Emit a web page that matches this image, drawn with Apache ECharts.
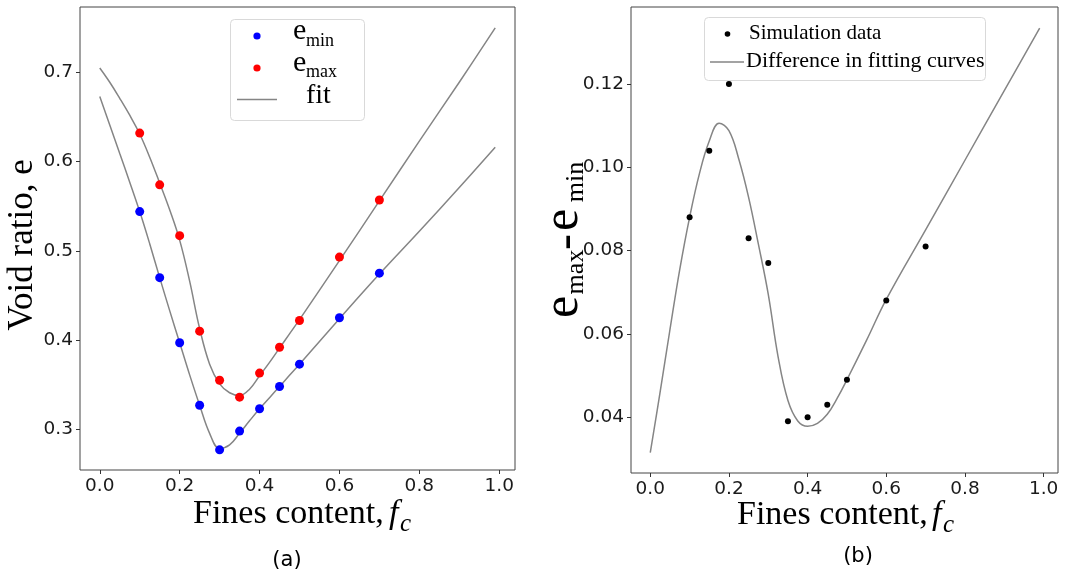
<!DOCTYPE html>
<html>
<head>
<meta charset="utf-8">
<script src="https://cdn.jsdelivr.net/npm/echarts@6/dist/echarts.min.js"></script>
<style>
  html, body { margin: 0; padding: 0; background: #fff; }
  #chart { width: 1078px; height: 579px; }
</style>
</head>
<body>
<div id="chart"></div>
<script>
// Fines content of the simulated samples
const fcData = [0.1, 0.15, 0.2, 0.25, 0.3, 0.35, 0.4, 0.45, 0.5, 0.6, 0.7];
// Minimum / maximum void ratio from the simulations
const eMin = [0.544, 0.470, 0.397, 0.327, 0.277, 0.298, 0.323, 0.348, 0.373, 0.425, 0.475];
const eMax = [0.632, 0.574, 0.517, 0.410, 0.355, 0.336, 0.363, 0.392, 0.422, 0.493, 0.557];
// e_max - e_min from the simulations
const eDiff = [0.088, 0.104, 0.120, 0.083, 0.077, 0.039, 0.040, 0.043, 0.049, 0.068, 0.081];

// Fitted curves for e_min and e_max
const fitX = [0, 0.025, 0.05, 0.075, 0.1, 0.125, 0.15, 0.175, 0.2, 0.225, 0.25, 0.275, 0.3, 0.325, 0.35, 0.375, 0.4, 0.425, 0.45, 0.475, 0.5, 0.6, 0.7, 0.8, 0.9, 0.99];
const fitMax = [0.705, 0.689, 0.671, 0.652, 0.631, 0.605, 0.576, 0.546, 0.512, 0.466, 0.413, 0.373, 0.351, 0.341, 0.338, 0.345, 0.360, 0.375, 0.391, 0.407, 0.423, 0.489, 0.556, 0.623, 0.689, 0.750];
const fitMin = [0.673, 0.641, 0.609, 0.577, 0.544, 0.508, 0.470, 0.433, 0.397, 0.361, 0.327, 0.2955, 0.2785, 0.2825, 0.2955, 0.3095, 0.323, 0.3355, 0.348, 0.3605, 0.373, 0.424, 0.474, 0.522, 0.571, 0.616];

// Difference between the two fitted curves
const diffX = [0, 0.025, 0.05, 0.075, 0.1, 0.125, 0.15, 0.175, 0.2, 0.225, 0.25, 0.275, 0.3, 0.325, 0.35, 0.375, 0.4, 0.425, 0.45, 0.475, 0.5, 0.55, 0.6, 0.7, 0.8, 0.9, 0.99];
const diffFit = [0.0315, 0.046, 0.061, 0.0755, 0.088, 0.0985, 0.1063, 0.1106, 0.1088, 0.102, 0.0928, 0.0815, 0.0695, 0.0545, 0.0440, 0.0391, 0.0378, 0.0385, 0.0407, 0.0445, 0.049, 0.0585, 0.0683, 0.085, 0.1017, 0.1184, 0.1334];

// Tick labels
const xTicks = [0, 0.2, 0.4, 0.6, 0.8, 1.0];
const yTicksA = [0.3, 0.4, 0.5, 0.6, 0.7];
const yTicksB = [0.04, 0.06, 0.08, 0.10, 0.12];

const pairs = (xs, ys) => xs.map((x, i) => [x, ys[i]]);

const TICK_FONT = 'DejaVu Sans';
const SERIF = '"Liberation Serif", "Times New Roman", serif';
const FIT_GREY = '#858585';
const SMOOTH = 0.4;

function valueAxis(gridIndex, min, max, ticks, digits) {
  return {
    type: 'value', gridIndex, min, max,
    axisLine: { show: false, onZero: false },
    splitLine: { show: false },
    axisTick: { show: true, length: 4, customValues: ticks, lineStyle: { color: '#333', width: 1 } },
    axisLabel: {
      customValues: ticks, margin: 7, color: '#1a1a1a',
      fontFamily: TICK_FONT, fontSize: 18.5,
      formatter: v => v.toFixed(digits)
    }
  };
}

function text(x, y, s, font, align, rot) {
  return {
    type: 'text', x, y, rotation: rot || 0, silent: true,
    style: {
      text: s, font, fill: '#000',
      textAlign: align || 'left', textVerticalAlign: 'middle',
      align: align || 'left', verticalAlign: 'middle'
    }
  };
}

const R90 = Math.PI / 2;

const graphics = [
  // axis titles, panel (a)
  text(23, 245, 'Void ratio, e', '35px ' + SERIF, 'center', R90),
  text(193, 514, 'Fines content,', '34px ' + SERIF, 'left'),
  text(389, 514, 'f', 'italic 34px ' + SERIF, 'left'),
  text(400, 524, 'c', 'italic 25px ' + SERIF, 'left'),
  text(287, 561, '(a)', '21px "DejaVu Sans"', 'center'),

  // axis titles, panel (b)
  text(564, 307, 'e', '50px ' + SERIF, 'center', R90),
  text(576, 272, 'max', '26px ' + SERIF, 'center', R90),
  text(567, 242, '-', '48px ' + SERIF, 'center', R90),
  text(564, 220, 'e', '50px ' + SERIF, 'center', R90),
  text(576, 182, 'min', '26px ' + SERIF, 'center', R90),
  text(737, 515, 'Fines content,', '34px ' + SERIF, 'left'),
  text(932, 515, 'f', 'italic 34px ' + SERIF, 'left'),
  text(943, 525, 'c', 'italic 25px ' + SERIF, 'left'),
  text(858, 557, '(b)', '21px "DejaVu Sans"', 'center'),

  // legend, panel (a)
  { type: 'rect', shape: { x: 230.5, y: 19.5, width: 134, height: 101, r: 4 },
    style: { fill: 'rgba(255,255,255,0.85)', stroke: '#d9d9d9', lineWidth: 1 }, z: 10, silent: true },
  { type: 'circle', shape: { cx: 257, cy: 36, r: 3.6 }, style: { fill: '#0000ff' }, z: 11, silent: true },
  { type: 'circle', shape: { cx: 257, cy: 68, r: 3.6 }, style: { fill: '#ff0000' }, z: 11, silent: true },
  { type: 'line', shape: { x1: 237, y1: 99.5, x2: 277, y2: 99.5 }, style: { stroke: FIT_GREY, lineWidth: 1.5 }, z: 11, silent: true },
  Object.assign(text(293, 31, 'e', '30px ' + SERIF, 'left'), { z: 11 }),
  Object.assign(text(306, 41, 'min', '18px ' + SERIF, 'left'), { z: 11 }),
  Object.assign(text(293, 63, 'e', '30px ' + SERIF, 'left'), { z: 11 }),
  Object.assign(text(306, 72, 'max', '18px ' + SERIF, 'left'), { z: 11 }),
  Object.assign(text(306, 96, 'fit', '28px ' + SERIF, 'left'), { z: 11 }),

  // legend, panel (b)
  { type: 'rect', shape: { x: 704.5, y: 17.5, width: 281, height: 63, r: 4 },
    style: { fill: 'rgba(255,255,255,0.85)', stroke: '#d9d9d9', lineWidth: 1 }, z: 10, silent: true },
  { type: 'circle', shape: { cx: 727.5, cy: 34, r: 2.8 }, style: { fill: '#000' }, z: 11, silent: true },
  { type: 'line', shape: { x1: 710, y1: 62, x2: 744, y2: 62 }, style: { stroke: FIT_GREY, lineWidth: 1.5 }, z: 11, silent: true },
  Object.assign(text(749, 33, 'Simulation data', '21px ' + SERIF, 'left'), { z: 11 }),
  Object.assign(text(746, 61, 'Difference in fitting curves', '22px ' + SERIF, 'left'), { z: 11 })
];

const option = {
  animation: false,
  backgroundColor: '#fff',
  grid: [
    { left: 80, top: 7, width: 435, height: 463, show: true, borderColor: '#444', borderWidth: 1, backgroundColor: 'transparent' },
    { left: 631, top: 7, width: 427, height: 466, show: true, borderColor: '#444', borderWidth: 1, backgroundColor: 'transparent' }
  ],
  xAxis: [
    Object.assign(valueAxis(0, -0.0495, 1.0395, xTicks, 1), { position: 'bottom' }),
    Object.assign(valueAxis(1, -0.049, 1.0366, xTicks, 1), { position: 'bottom' })
  ],
  yAxis: [
    Object.assign(valueAxis(0, 0.2544, 0.7733, yTicksA, 1), { position: 'left' }),
    Object.assign(valueAxis(1, 0.0266, 0.1385, yTicksB, 2), { position: 'left' })
  ],
  series: [
    { name: 'fit max', type: 'line', xAxisIndex: 0, yAxisIndex: 0, data: pairs(fitX, fitMax),
      showSymbol: false, smooth: SMOOTH, lineStyle: { color: FIT_GREY, width: 1.5 }, z: 2, silent: true },
    { name: 'fit min', type: 'line', xAxisIndex: 0, yAxisIndex: 0, data: pairs(fitX, fitMin),
      showSymbol: false, smooth: SMOOTH, lineStyle: { color: FIT_GREY, width: 1.5 }, z: 2, silent: true },
    { name: 'e_min', type: 'scatter', xAxisIndex: 0, yAxisIndex: 0, data: pairs(fcData, eMin),
      symbolSize: 9, itemStyle: { color: '#0000ff', opacity: 1 }, z: 3, silent: true },
    { name: 'e_max', type: 'scatter', xAxisIndex: 0, yAxisIndex: 0, data: pairs(fcData, eMax),
      symbolSize: 9, itemStyle: { color: '#ff0000', opacity: 1 }, z: 3, silent: true },
    { name: 'difference', type: 'line', xAxisIndex: 1, yAxisIndex: 1, data: pairs(diffX, diffFit),
      showSymbol: false, smooth: SMOOTH, lineStyle: { color: FIT_GREY, width: 1.5 }, z: 2, silent: true },
    { name: 'simulation', type: 'scatter', xAxisIndex: 1, yAxisIndex: 1, data: pairs(fcData, eDiff),
      symbolSize: 6, itemStyle: { color: '#000', opacity: 1 }, z: 3, silent: true }
  ],
  graphic: graphics
};

const chart = echarts.init(document.getElementById('chart'), null, { renderer: 'canvas' });
chart.setOption(option);
</script>
</body>
</html>
